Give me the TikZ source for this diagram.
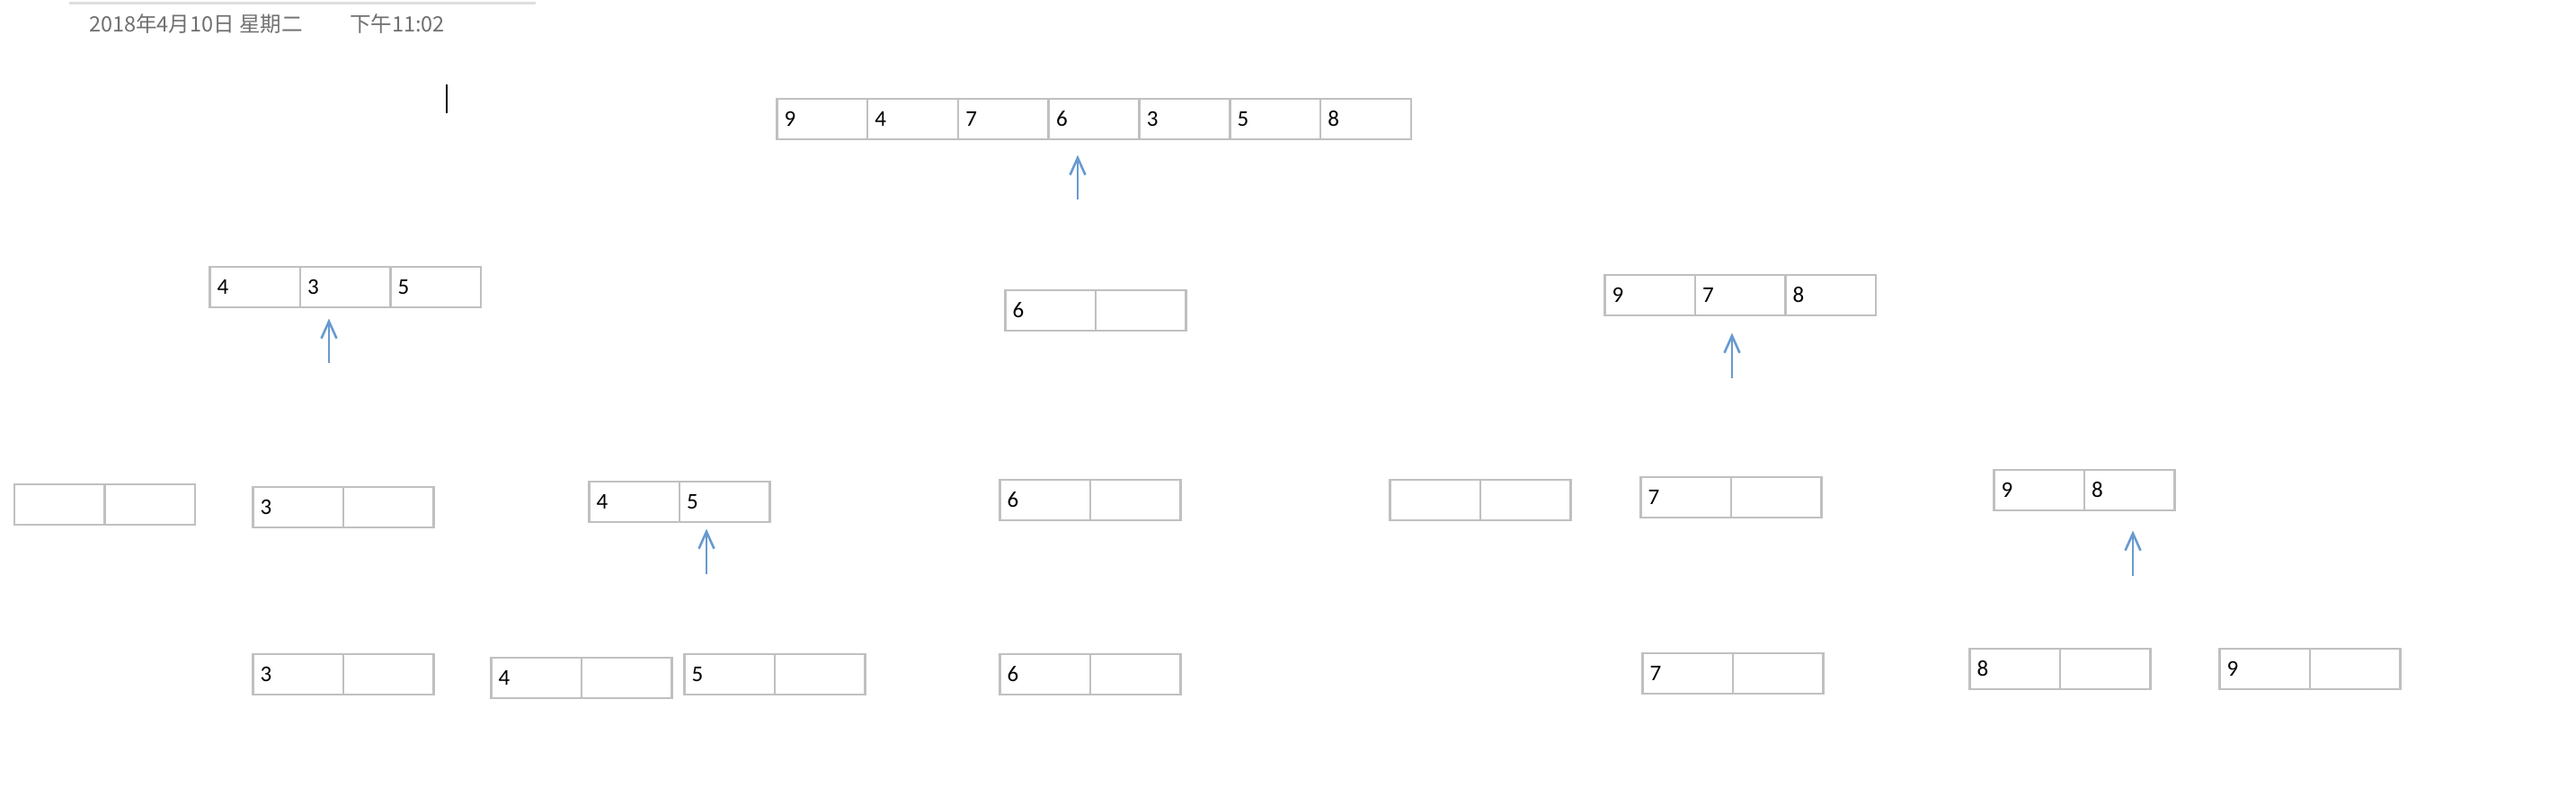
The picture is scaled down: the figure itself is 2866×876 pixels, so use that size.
\documentclass[tikz,border=0pt]{standalone}
\usepackage{fontspec}
\setmainfont{Carlito}
\newfontfamily\cjkfont{Noto Sans CJK SC}
\usetikzlibrary{arrows.meta}
\definecolor{boxgray}{RGB}{192,192,192}
\definecolor{headgray}{RGB}{112,112,112}
\definecolor{linegray}{RGB}{222,222,222}
\definecolor{arrowblue}{RGB}{104,154,208}
\tikzset{
  cellbox/.style={draw=boxgray, line width=2.5pt, minimum width=100.7pt, minimum height=45pt,
    inner sep=0pt, anchor=north west, text width=84pt, align=left,
    font=\fontsize{25pt}{28pt}\selectfont},
  uparrow/.style={draw=arrowblue, line width=2.6pt, -{Straight Barb[length=19pt,width=17pt,line width=2.6pt]}},
  headtext/.style={anchor=base west, inner sep=0pt, text=headgray, font=\cjkfont\fontsize{23.5pt}{28pt}\selectfont}
}
\newcommand{\cellrow}[5]{% name, x, y, cell width, values
  \foreach \v [count=\i] in {#5} {
    \node[cellbox, minimum width=#4pt] (#1-\i) at ({#2+#4*(\i-1)},#3) {\v};
  }
}
\begin{document}
\begin{tikzpicture}[x=1pt,y=-1pt]
\useasboundingbox (0,0) rectangle (2866,876);
% header
\coordinate (hl1) at (77,3.5);
\coordinate (hl2) at (596,3.5);
\draw[linegray, line width=3pt] (hl1) -- (hl2);
\node[headtext] (date) at (99,35) {2018年4月10日 星期二};
\node[headtext] (time) at (389,35) {下午11:02};
\coordinate (cur1) at (497,94);
\coordinate (cur2) at (497,126);
\draw[black, line width=2.2pt] (cur1) -- (cur2);
\begin{scope}[yshift=1.5pt]
% top array
\cellrow{top}{863}{110}{100.8}{9,4,7,6,3,5,8}
\coordinate (a1t) at (1199,223);
\coordinate (a1h) at (1199,174);
\draw[uparrow] (a1t) -- (a1h);
% level 2
\cellrow{la}{232}{297}{100.5}{4,3,5}
\coordinate (a2t) at (366,405);
\coordinate (a2h) at (366,356);
\draw[uparrow] (a2t) -- (a2h);
\cellrow{lb}{1117}{323}{100.5}{6,{}}
\cellrow{lc}{1784}{306}{100.5}{9,7,8}
\coordinate (a3t) at (1927,422);
\coordinate (a3h) at (1927,372);
\draw[uparrow] (a3t) -- (a3h);
% level 3
\cellrow{ma}{14.6}{539}{100.5}{{},{}}
\cellrow{mb}{280}{542}{100.5}{3,{}}
\cellrow{mc}{654}{536}{100.5}{4,5}
\coordinate (a4t) at (786,640);
\coordinate (a4h) at (786,590);
\draw[uparrow] (a4t) -- (a4h);
\cellrow{md}{1111}{534}{100.5}{6,{}}
\cellrow{me}{1545}{534}{100.5}{{},{}}
\cellrow{mf}{1824}{531}{100.5}{7,{}}
\cellrow{mg}{2217}{523}{100.5}{9,8}
\coordinate (a5t) at (2373,642);
\coordinate (a5h) at (2373,592);
\draw[uparrow] (a5t) -- (a5h);
% level 4
\cellrow{na}{280}{728}{100.5}{3,{}}
\cellrow{nb}{545}{732}{100.5}{4,{}}
\cellrow{nc}{760}{728}{100.5}{5,{}}
\cellrow{nd}{1111}{728}{100.5}{6,{}}
\cellrow{ne}{1826}{727}{100.5}{7,{}}
\cellrow{nf}{2190}{722}{100.5}{8,{}}
\cellrow{ng}{2468}{722}{100.5}{9,{}}
\end{scope}
\end{tikzpicture}
\end{document}
